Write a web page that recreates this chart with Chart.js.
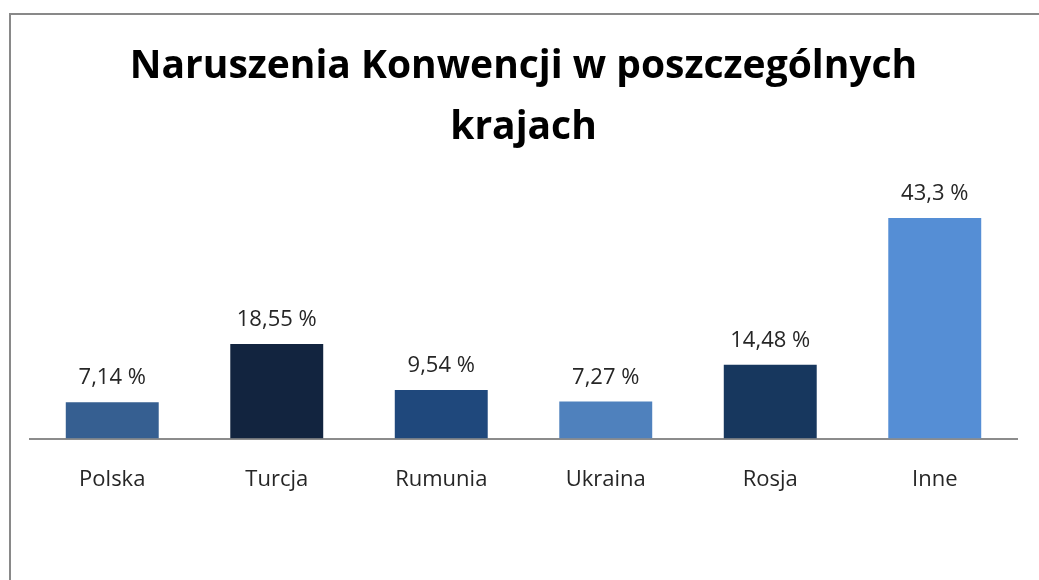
<!DOCTYPE html>
<html>
<head>
<meta charset="utf-8">
<script src="https://cdn.jsdelivr.net/npm/chart.js@4/dist/chart.umd.min.js"></script>
<style>
    html, body { margin: 0; padding: 0; background: #ffffff; }
    #wrap { position: relative; width: 1039px; height: 580px; }
</style>
</head>
<body>
<div id="wrap"><canvas id="chart" width="1039" height="580"></canvas></div>
<script>
const categories = ['Polska', 'Turcja', 'Rumunia', 'Ukraina', 'Rosja', 'Inne'];
const values = [7.14, 18.55, 9.54, 7.27, 14.48, 43.3];
const valueLabels = ['7,14 %', '18,55 %', '9,54 %', '7,27 %', '14,48 %', '43,3 %'];
const barColors = ['#365f91', '#12243f', '#1f487c', '#4f81bd', '#17375e', '#558ed5'];
const titleLines = ['Naruszenia Konwencji w poszczególnych', 'krajach'];

// frame around the chart (right and bottom edges fall outside the picture)
const framePlugin = {
    id: 'frame',
    beforeDraw(chart) {
        const ctx = chart.ctx;
        ctx.save();
        ctx.strokeStyle = '#898989';
        ctx.lineWidth = 2;
        ctx.beginPath();
        ctx.moveTo(10, 600);
        ctx.lineTo(10, 14);
        ctx.lineTo(1060, 14);
        ctx.stroke();
        ctx.restore();
    }
};

// value labels above each bar
const valueLabelPlugin = {
    id: 'valueLabels',
    afterDatasetsDraw(chart) {
        const ctx = chart.ctx;
        const meta = chart.getDatasetMeta(0);
        ctx.save();
        ctx.font = '22px "Open Sans"';
        ctx.fillStyle = '#262626';
        ctx.textAlign = 'center';
        ctx.textBaseline = 'alphabetic';
        meta.data.forEach((bar, i) => {
            ctx.fillText(valueLabels[i], bar.x, bar.y - 18);
        });
        ctx.restore();
    }
};

new Chart(document.getElementById('chart'), {
    type: 'bar',
    data: {
        labels: categories,
        datasets: [{
            data: values,
            backgroundColor: barColors,
            borderWidth: 0,
            categoryPercentage: 1,
            barPercentage: 0.565,
        }],
    },
    options: {
        responsive: false,
        animation: false,
        events: [],
        layout: {
            padding: { top: 37, left: 30, right: 22, bottom: 59 },
        },
        scales: {
            x: {
                grid: { display: false, drawTicks: false },
                border: { display: true, color: '#8c8c8c', width: 2 },
                ticks: {
                    color: '#262626',
                    padding: 28,
                    font: { family: '"Open Sans"', size: 22 },
                },
            },
            y: {
                display: false,
                min: 0,
                max: 50,
            },
        },
        plugins: {
            legend: { display: false },
            tooltip: { enabled: false },
            title: {
                display: true,
                text: titleLines,
                color: '#000000',
                font: { family: '"Open Sans"', size: 39, weight: 'bold', lineHeight: 1.55 },
                padding: { top: 0, bottom: 26 },
            },
        },
    },
    plugins: [framePlugin, valueLabelPlugin],
});
</script>
</body>
</html>
